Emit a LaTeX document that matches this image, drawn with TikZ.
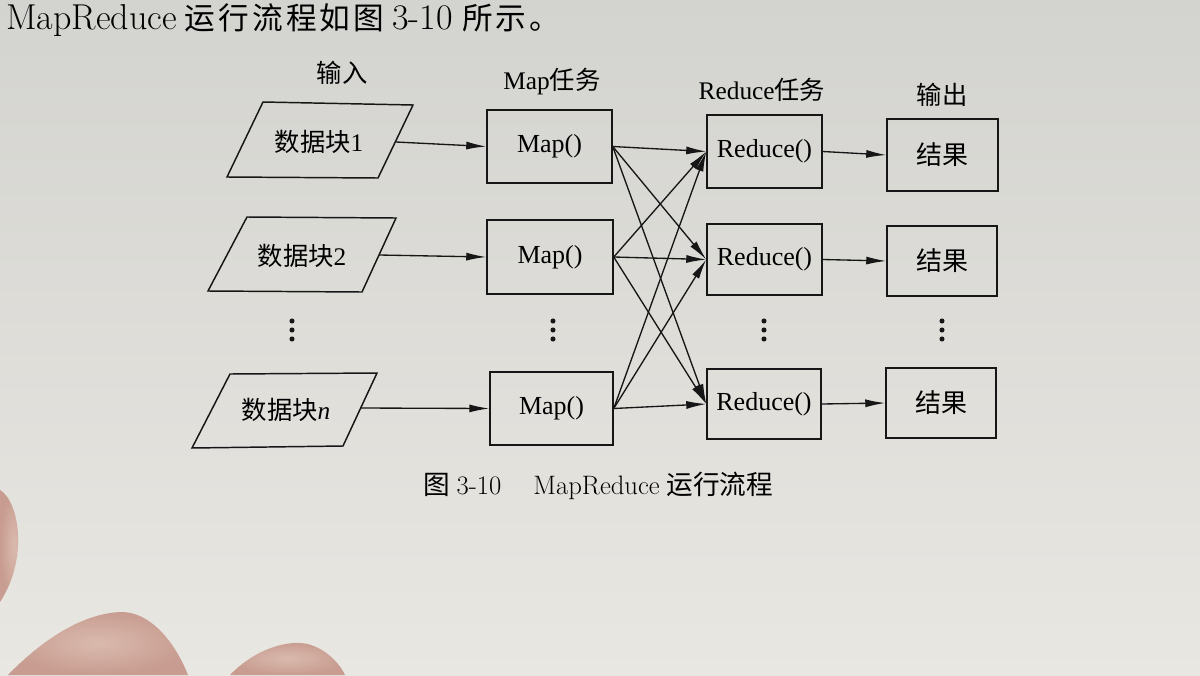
\documentclass[tikz,border=0pt]{standalone}
\usepackage{fontspec}
\newfontfamily\cjk{Noto Sans CJK SC}
\newfontfamily\tms{Liberation Serif}
\usetikzlibrary{arrows.meta}
\definecolor{paperA}{RGB}{211,211,207}
\definecolor{paperB}{RGB}{233,231,226}
\definecolor{skin}{RGB}{200,156,144}
\definecolor{skinL}{RGB}{218,186,174}
\definecolor{ink}{RGB}{22,22,22}
\newcommand\cg{\hspace{2.3pt}}
\begin{document}
\begin{tikzpicture}[x=0.75pt,y=-0.75pt,
  box/.style={draw=ink,line width=1.1pt,inner sep=0pt,font=\tms\fontsize{19.5}{21}\selectfont},
  para/.style={draw=ink,line width=1.1pt},
  ptxt/.style={inner sep=0pt,font=\tms\fontsize{19}{21}\selectfont},
  lbl/.style={inner sep=0pt,font=\tms\fontsize{19}{21}\selectfont},
  arr/.style={draw=ink,line width=1pt,-{Latex[length=15pt,width=6pt]}},
  dotc/.style={fill=ink}]
\useasboundingbox (0,0) rectangle (1200,675);
\shade[top color=paperA,bottom color=paperB] (0,0) rectangle (1200,675);

% fingers
\shade[inner color=skinL,outer color=skin] (0,490) .. controls (20,502) and (28,560) .. (0,602) -- cycle;
\shade[inner color=skinL,outer color=skin] (8,675) .. controls (40,642) and (80,614) .. (120,612) .. controls (150,611) and (175,642) .. (188,675) -- cycle;
\shade[inner color=skinL,outer color=skin] (230,675) .. controls (252,652) and (280,642) .. (300,643) .. controls (320,644) and (338,660) .. (345,675) -- cycle;

% top line and caption
\node[anchor=base west,inner sep=0pt,font=\fontsize{27}{29}\selectfont] (top) at (6,29)
  {MapReduce\hspace{6pt}{\cjk\fontsize{23}{25}\selectfont 运\cg 行\cg 流\cg 程\cg 如\cg 图}\hspace{6pt}3-10\hspace{7pt}{\cjk\fontsize{23}{25}\selectfont 所\cg 示\cg 。}};
\node[anchor=base west,inner sep=0pt,font=\fontsize{20}{22}\selectfont] (cap) at (423,494)
  {{\cjk 图}\hspace{5pt}3-10\hspace{24pt}MapReduce\hspace{5pt}{\cjk 运行流程}};

% column labels
\node[lbl] (h1) at (342,73) {{\cjk 输入}};
\node[lbl] (h2) at (552,82) {Map{\cjk 任务}};
\node[lbl] (h3) at (762,90) {Reduce{\cjk 任务}};
\node[lbl] (h4) at (942,95) {{\cjk 输出}};

% inputs
\draw[para] (263,102) -- (413,105) -- (378,178) -- (227,177) -- cycle;
\node[ptxt] (p1) at (319,142) {{\cjk 数据块}1};
\coordinate (p1e) at (396,142);
\draw[para] (247,217) -- (396,218) -- (362,292) -- (208,291) -- cycle;
\node[ptxt] (p2) at (302,256) {{\cjk 数据块}2};
\coordinate (p2e) at (379,255);
\draw[para] (230,374) -- (377,373) -- (343,446) -- (192,448) -- cycle;
\node[ptxt] (p3) at (286,410) {{\cjk 数据块}\textit{n}};
\coordinate (p3e) at (360,408);

% map boxes
\node[box,minimum width=93.75pt,minimum height=54.75pt] (m1) at (549.5,146.5) {Map()};
\node[box,minimum width=94.5pt,minimum height=55.5pt] (m2) at (550,257) {Map()};
\node[box,minimum width=92.25pt,minimum height=54.75pt] (m3) at (551.5,408.5) {Map()};

% reduce boxes
\node[box,minimum width=86.25pt,minimum height=54.75pt] (r1) at (764.5,151.5) {Reduce()};
\node[box,minimum width=86.25pt,minimum height=53.25pt] (r2) at (764.5,259.5) {Reduce()};
\node[box,minimum width=85.5pt,minimum height=52.5pt] (r3) at (764,404) {Reduce()};

% outputs
\node[box,minimum width=83.25pt,minimum height=54pt] (o1) at (942.5,155) {{\cjk 结果}};
\node[box,minimum width=82.5pt,minimum height=52.5pt] (o2) at (942,261) {{\cjk 结果}};
\node[box,minimum width=82.5pt,minimum height=52.5pt] (o3) at (941,403) {{\cjk 结果}};

% dots
\foreach \x in {292,553,764,942}{
  \fill[dotc] (\x,321) circle (1.9pt);
  \fill[dotc] (\x,330) circle (1.9pt);
  \fill[dotc] (\x,339) circle (1.9pt);
}

% arrows
\draw[arr] (p1e) -- (m1.west);
\draw[arr] (p2e) -- (m2.west);
\draw[arr] (p3e) -- (m3.west);
\foreach \i in {1,2,3}{
  \foreach \j in {1,2,3}{
    \draw[arr] (m\i.east) -- (r\j.west);
  }
  \draw[arr] (r\i.east) -- (o\i.west);
}
\end{tikzpicture}
\end{document}
